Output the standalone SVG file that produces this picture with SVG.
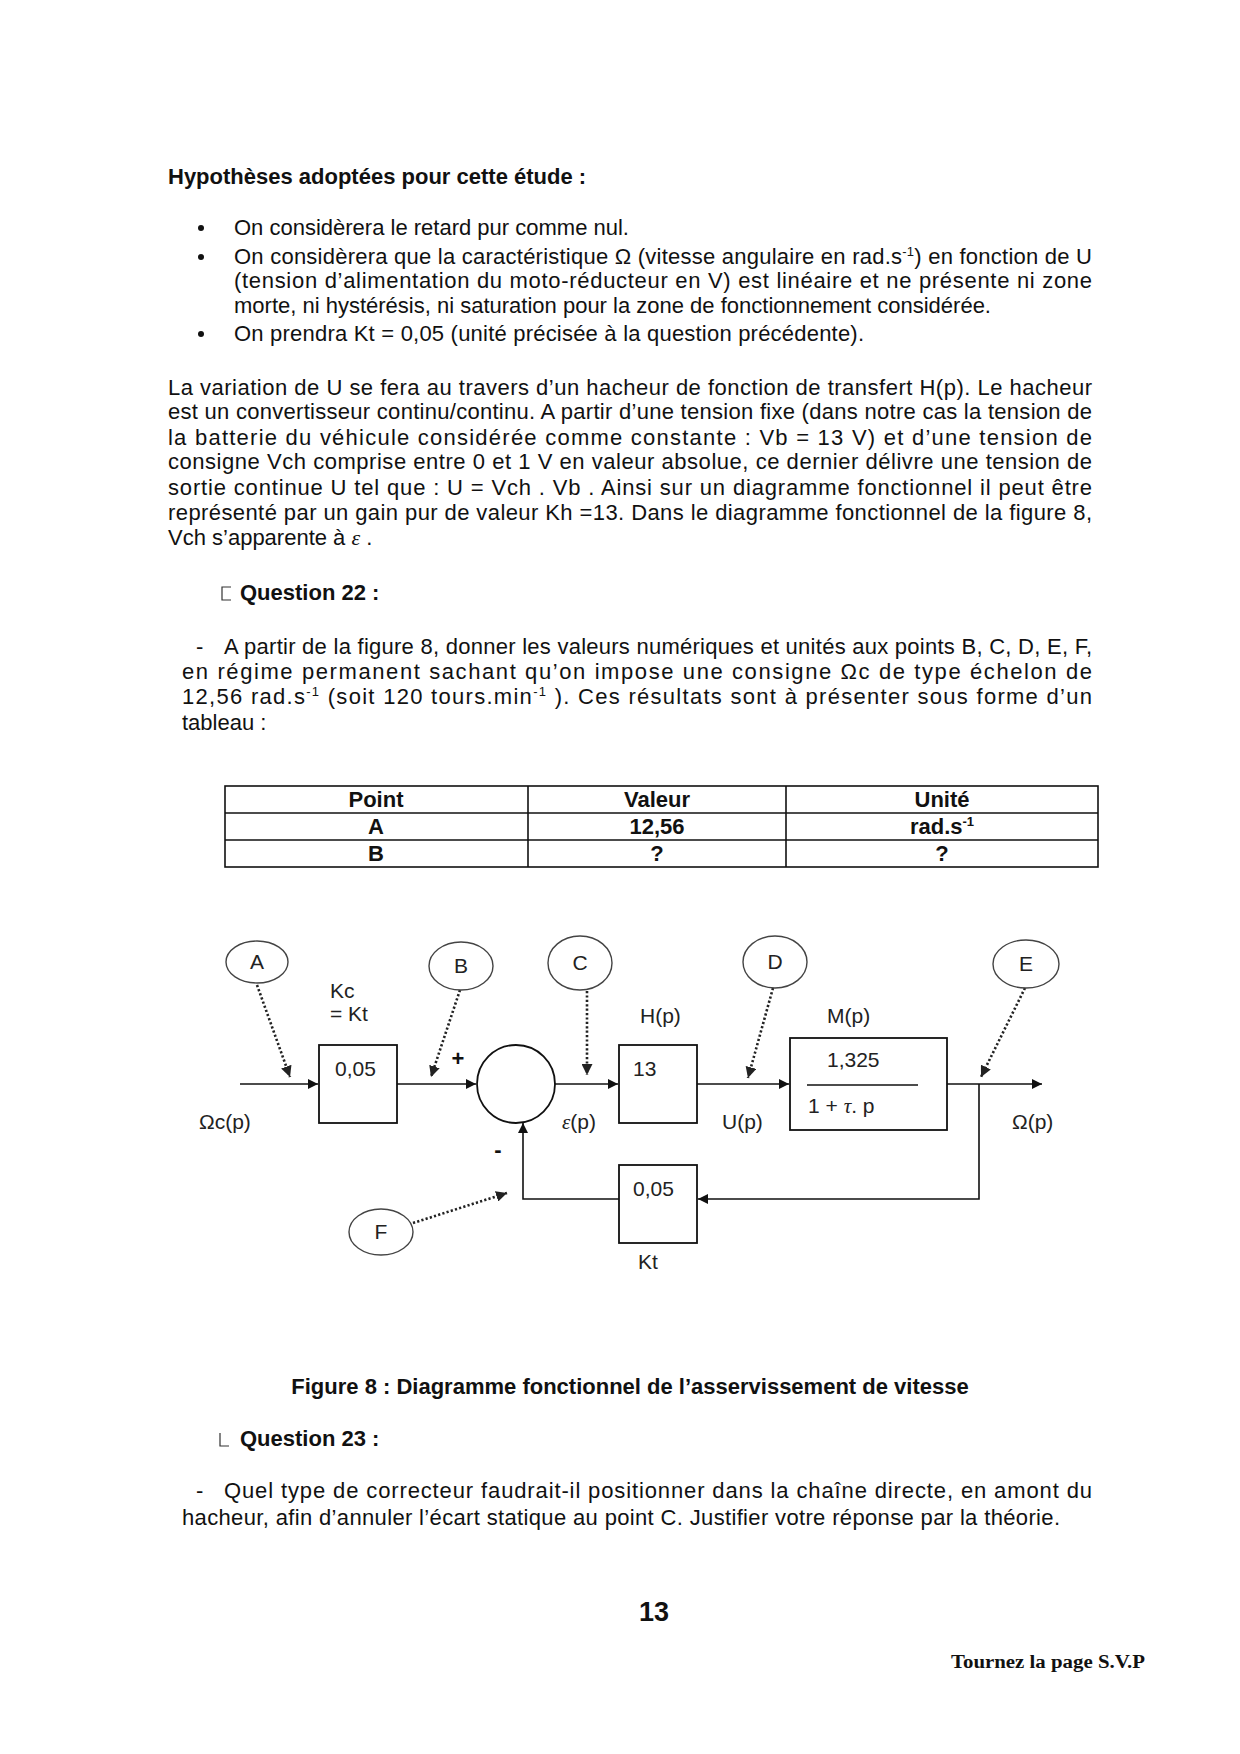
<svg xmlns="http://www.w3.org/2000/svg" width="1240" height="1754" viewBox="0 0 1240 1754">
<style>
.t{font-family:"Liberation Sans",Arial,sans-serif;font-size:22px;fill:#111}
.b{font-family:"Liberation Sans",Arial,sans-serif;font-size:22px;font-weight:bold;fill:#111}
.d{font-family:"Liberation Sans",Arial,sans-serif;font-size:21px;fill:#222}
.lbl{font-family:"Liberation Sans",Arial,sans-serif;font-size:21px;fill:#222;text-anchor:middle}
.sup{font-size:13px}
.eps{font-family:"Liberation Serif","Times New Roman",serif;font-style:italic}
.ln{stroke:#111;stroke-width:1.6;fill:none}
.box{stroke:#111;stroke-width:1.8;fill:#fff}
.ell{stroke:#444;stroke-width:1.4;fill:#fff}
.dot{stroke:#222;stroke-width:2.6;stroke-dasharray:2.2 2.2;fill:none}
.tb{stroke:#111;stroke-width:1.6;fill:none}
</style>
<defs>
<marker id="ar" viewBox="0 0 10 10" refX="10" refY="5" markerWidth="10" markerHeight="10" markerUnits="userSpaceOnUse" orient="auto">
<path d="M0,0 L10,5 L0,10 z" fill="#111"/>
</marker>
<marker id="ad" viewBox="0 0 10 10" refX="10" refY="5" markerWidth="11" markerHeight="11" markerUnits="userSpaceOnUse" orient="auto">
<path d="M0,0 L10,5 L0,10 z" fill="#222"/>
</marker>
</defs>
<rect width="1240" height="1754" fill="#fff"/>

<!-- Hypotheses -->
<text class="b" x="168" y="184">Hypothèses adoptées pour cette étude :</text>
<g fill="#111">
<circle cx="201" cy="228" r="3"/>
<circle cx="201" cy="257" r="3"/>
<circle cx="201" cy="334" r="3"/>
</g>
<text class="t" x="234" y="235">On considèrera le retard pur comme nul.</text>
<text class="t" x="234" y="264" textLength="858" lengthAdjust="spacing">On considèrera que la caractéristique Ω (vitesse angulaire en rad.s<tspan class="sup" dy="-8">-1</tspan><tspan dy="8">) en fonction de U</tspan></text>
<text class="t" x="234" y="288" textLength="858" lengthAdjust="spacing">(tension d’alimentation du moto-réducteur en V) est linéaire et ne présente ni zone</text>
<text class="t" x="234" y="313">morte, ni hystérésis, ni saturation pour la zone de fonctionnement considérée.</text>
<text class="t" x="234" y="341" textLength="630" lengthAdjust="spacing">On prendra Kt = 0,05 (unité précisée à la question précédente).</text>

<!-- Paragraph -->
<text class="t" x="168" y="395" textLength="924" lengthAdjust="spacing">La variation de U se fera au travers d’un hacheur de fonction de transfert H(p). Le hacheur</text>
<text class="t" x="168" y="419" textLength="924" lengthAdjust="spacing">est un convertisseur continu/continu. A partir d’une tension fixe (dans notre cas la tension de</text>
<text class="t" x="168" y="445" textLength="924" lengthAdjust="spacing">la batterie du véhicule considérée comme constante : Vb = 13 V) et d’une tension de</text>
<text class="t" x="168" y="469" textLength="924" lengthAdjust="spacing">consigne Vch comprise entre 0 et 1 V en valeur absolue, ce dernier délivre une tension de</text>
<text class="t" x="168" y="495" textLength="924" lengthAdjust="spacing">sortie continue U tel que : U = Vch . Vb . Ainsi sur un diagramme fonctionnel il peut être</text>
<text class="t" x="168" y="520" textLength="924" lengthAdjust="spacing">représenté par un gain pur de valeur Kh =13. Dans le diagramme fonctionnel de la figure 8,</text>
<text class="t" x="168" y="545">Vch s’apparente à <tspan class="eps">ε</tspan> .</text>

<!-- Question 22 -->
<path d="M231,587 H222 V600 H231" stroke="#333" stroke-width="1.2" fill="none"/>
<text class="b" x="240" y="600">Question 22 :</text>
<text class="t" x="196" y="654">-</text>
<text class="t" x="224" y="654" textLength="868" lengthAdjust="spacing">A partir de la figure 8, donner les valeurs numériques et unités aux points B, C, D, E, F,</text>
<text class="t" x="182" y="679" textLength="910" lengthAdjust="spacing">en régime permanent sachant qu’on impose une consigne Ωc de type échelon de</text>
<text class="t" x="182" y="704" textLength="910" lengthAdjust="spacing">12,56 rad.s<tspan class="sup" dy="-8">-1</tspan><tspan dy="8"> (soit 120 tours.min</tspan><tspan class="sup" dy="-8">-1</tspan><tspan dy="8"> ). Ces résultats sont à présenter sous forme d’un</tspan></text>
<text class="t" x="182" y="730">tableau :</text>

<!-- Table -->
<g id="table">
<rect class="tb" x="225" y="786" width="873" height="81"/>
<line class="tb" x1="225" y1="813" x2="1098" y2="813"/>
<line class="tb" x1="225" y1="840" x2="1098" y2="840"/>
<line class="tb" x1="528" y1="786" x2="528" y2="867"/>
<line class="tb" x1="786" y1="786" x2="786" y2="867"/>
<g class="b" text-anchor="middle">
<text x="376" y="807">Point</text>
<text x="657" y="807">Valeur</text>
<text x="942" y="807">Unité</text>
<text x="376" y="834">A</text>
<text x="657" y="834">12,56</text>
<text x="942" y="834">rad.s<tspan class="sup" dy="-8">-1</tspan></text>
<text x="376" y="861">B</text>
<text x="657" y="861">?</text>
<text x="942" y="861">?</text>
</g>
</g>

<!-- Diagram connectors -->
<g id="connectors">
<line class="ln" x1="240" y1="1084" x2="318" y2="1084" marker-end="url(#ar)"/>
<line class="ln" x1="397" y1="1084" x2="476" y2="1084" marker-end="url(#ar)"/>
<line class="ln" x1="555" y1="1084" x2="618" y2="1084" marker-end="url(#ar)"/>
<line class="ln" x1="697" y1="1084" x2="789" y2="1084" marker-end="url(#ar)"/>
<line class="ln" x1="947" y1="1084" x2="1042" y2="1084" marker-end="url(#ar)"/>
<polyline class="ln" points="979,1084 979,1199 698,1199" marker-end="url(#ar)"/>
<polyline class="ln" points="619,1199 523,1199 523,1123" marker-end="url(#ar)"/>
<line class="dot" x1="257" y1="985" x2="290" y2="1077" marker-end="url(#ad)"/>
<line class="dot" x1="460" y1="990" x2="431" y2="1077" marker-end="url(#ad)"/>
<line class="dot" x1="587" y1="991" x2="587" y2="1075" marker-end="url(#ad)"/>
<line class="dot" x1="773" y1="988" x2="748" y2="1078" marker-end="url(#ad)"/>
<line class="dot" x1="1025" y1="988" x2="981" y2="1077" marker-end="url(#ad)"/>
<line class="dot" x1="413" y1="1223" x2="507" y2="1193" marker-end="url(#ad)"/>
</g>

<!-- Nodes -->
<g id="node-kc">
<rect class="box" x="319" y="1045" width="78" height="78"/>
<text class="d" x="335" y="1076">0,05</text>
<text class="d" x="330" y="998">Kc</text>
<text class="d" x="330" y="1021">= Kt</text>
</g>
<g id="node-sum">
<circle class="box" cx="516" cy="1084" r="39"/>
<text x="458" y="1066" font-family="Liberation Sans,Arial,sans-serif" font-size="22" font-weight="bold" text-anchor="middle" fill="#111">+</text>
<text x="498" y="1157" font-family="Liberation Sans,Arial,sans-serif" font-size="22" font-weight="bold" text-anchor="middle" fill="#111">-</text>
</g>
<g id="node-h">
<rect class="box" x="619" y="1045" width="78" height="78"/>
<text class="d" x="633" y="1076">13</text>
<text class="d" x="640" y="1023">H(p)</text>
</g>
<g id="node-m">
<rect class="box" x="790" y="1038" width="157" height="92"/>
<text class="d" x="827" y="1067">1,325</text>
<line x1="807" y1="1085" x2="918" y2="1085" stroke="#111" stroke-width="1.4"/>
<text class="d" x="808" y="1113">1 + <tspan class="eps">τ</tspan>. p</text>
<text class="d" x="827" y="1023">M(p)</text>
</g>
<g id="node-kt">
<rect class="box" x="619" y="1165" width="78" height="78"/>
<text class="d" x="633" y="1196">0,05</text>
<text class="d" x="638" y="1269">Kt</text>
</g>
<g id="signal-labels">
<text class="d" x="199" y="1129">Ωc(p)</text>
<text class="d" x="562" y="1129"><tspan class="eps">ε</tspan>(p)</text>
<text class="d" x="722" y="1129">U(p)</text>
<text class="d" x="1012" y="1129">Ω(p)</text>
</g>
<g id="node-A"><ellipse class="ell" cx="257" cy="962" rx="31" ry="21"/><text class="lbl" x="257" y="969">A</text></g>
<g id="node-B"><ellipse class="ell" cx="461" cy="966" rx="32" ry="24"/><text class="lbl" x="461" y="973">B</text></g>
<g id="node-C"><ellipse class="ell" cx="580" cy="963" rx="32" ry="27"/><text class="lbl" x="580" y="970">C</text></g>
<g id="node-D"><ellipse class="ell" cx="775" cy="962" rx="32" ry="26"/><text class="lbl" x="775" y="969">D</text></g>
<g id="node-E"><ellipse class="ell" cx="1026" cy="964" rx="33" ry="24"/><text class="lbl" x="1026" y="971">E</text></g>
<g id="node-F"><ellipse class="ell" cx="381" cy="1232" rx="32" ry="23"/><text class="lbl" x="381" y="1239">F</text></g>

<!-- Caption & Q23 -->
<text class="b" x="630" y="1394" text-anchor="middle">Figure 8 : Diagramme fonctionnel de l’asservissement de vitesse</text>
<path d="M220,1433 V1446 H229" stroke="#333" stroke-width="1.2" fill="none"/>
<text class="b" x="240" y="1446">Question 23 :</text>
<text class="t" x="196" y="1498">-</text>
<text class="t" x="224" y="1498" textLength="868" lengthAdjust="spacing">Quel type de correcteur faudrait-il positionner dans la chaîne directe, en amont du</text>
<text class="t" x="182" y="1525" textLength="878" lengthAdjust="spacing">hacheur, afin d’annuler l’écart statique au point C. Justifier votre réponse par la théorie.</text>

<text x="654" y="1621" font-family="Liberation Sans,Arial,sans-serif" font-size="27" font-weight="bold" text-anchor="middle" fill="#111">13</text>
<text x="951" y="1668" font-family="Liberation Serif,Times New Roman,serif" font-size="18" font-weight="bold" fill="#111" textLength="194" lengthAdjust="spacingAndGlyphs">Tournez la page S.V.P</text>
</svg>
